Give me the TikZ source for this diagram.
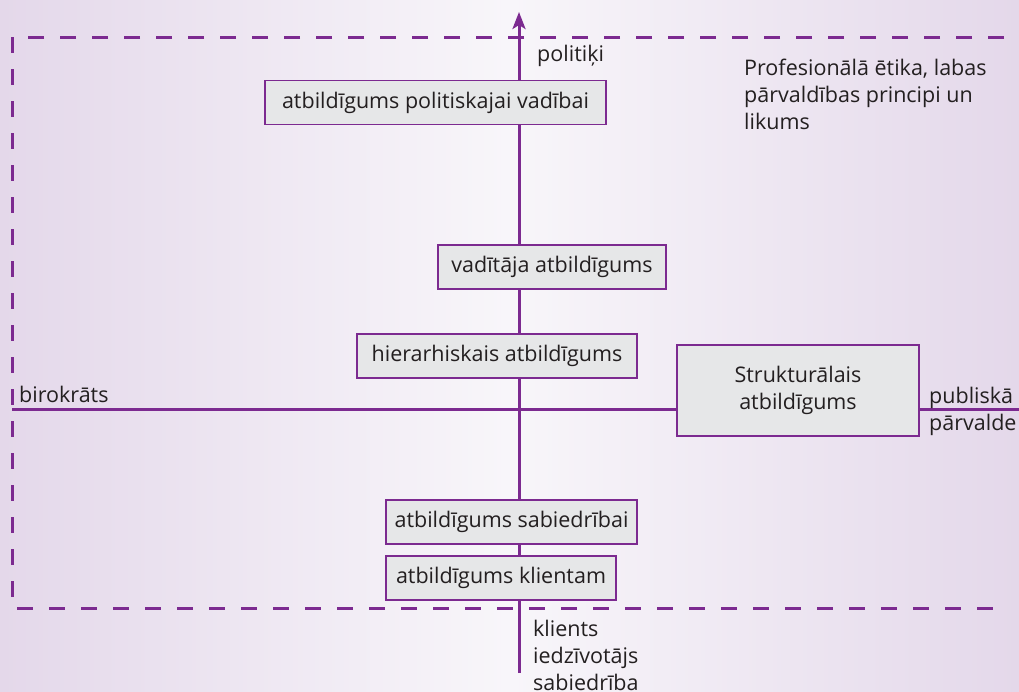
\documentclass[tikz,border=0pt]{standalone}
\usepackage{fontspec}
\setmainfont{Open Sans}
\usetikzlibrary{arrows.meta}
\definecolor{bgside}{RGB}{228,216,234}
\definecolor{bgmid}{RGB}{248,246,250}
\definecolor{purp}{RGB}{124,42,144}
\definecolor{boxfill}{RGB}{230,231,232}
\definecolor{txt}{RGB}{35,31,32}
\begin{document}
\begin{tikzpicture}[x=1pt,y=-1pt,
  font=\fontsize{21.5}{27}\selectfont, text=txt,
  respbox/.style={draw=purp, fill=boxfill, line width=1.4pt, inner sep=0pt, align=center},
  lbl/.style={inner sep=0pt, anchor=base west, align=left},
  axisline/.style={draw=purp, line width=3pt},
  frameline/.style={draw=purp, line width=3pt, dash pattern=on 16pt off 16pt}]
\useasboundingbox (0,0) rectangle (1019,691);
\shade[left color=bgside, right color=bgside, middle color=bgmid] (0,0) rectangle (1019,691);
% frame corners
\coordinate (ftr) at (1004,37);
\coordinate (ftl) at (12,37);
\coordinate (fbl) at (12,608);
\coordinate (fbr) at (1004,608);
\draw[frameline] (ftr) -- (ftl) -- (fbl) -- (fbr);
% axes
\coordinate (axbot) at (519,673);
\coordinate (axtop) at (519,12);
\coordinate (hleft) at (12,409);
\coordinate (hright) at (1019,409);
\draw[axisline, -{Stealth[length=17pt,width=13pt,inset=4pt]}] (axbot) -- (axtop);
% boxes
\node[respbox, minimum width=341pt, minimum height=44pt] (polit) at (435.5,102.5) {atbildīgums politiskajai vadībai};
\node[respbox, minimum width=228pt, minimum height=44pt] (vad) at (552,267) {vadītāja atbildīgums};
\node[respbox, minimum width=280pt, minimum height=44pt] (hier) at (497,356) {hierarhiskais atbildīgums};
\node[respbox, minimum width=242pt, minimum height=91pt] (struct) at (798,390.5) {Strukturālais\\atbildīgums};
\node[respbox, minimum width=251pt, minimum height=44pt] (sab) at (511.5,522) {atbildīgums sabiedrībai};
\node[respbox, minimum width=230pt, minimum height=44pt] (klient) at (501,578) {atbildīgums klientam};
\draw[axisline] (hleft) -- (hleft -| struct.west);
\draw[axisline] (hright -| struct.east) -- (hright);
% labels (base = baseline of last line)
\node[lbl] (lpol) at (537,61) {politiķi};
\node[lbl] (lbiro) at (19,402) {birokrāts};
\node[lbl] (lpub) at (929,430) {publiskā\\pārvalde};
\node[lbl] (lkli) at (533,690) {klients\\iedzīvotājs\\sabiedrība};
\node[lbl] (lprof) at (744,129) {Profesionālā ētika, labas\\pārvaldības principi un\\likums};
\end{tikzpicture}
\end{document}
